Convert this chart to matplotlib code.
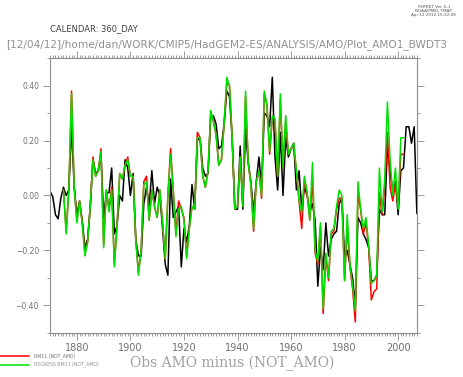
import matplotlib
matplotlib.use("Agg")
import matplotlib.pyplot as plt
from matplotlib.lines import Line2D
from matplotlib.ticker import MultipleLocator, FuncFormatter
import numpy as np

# observed AMO minus NOT_AMO, annual 1870-2007
obs_years = list(range(1870, 2008))
obs = [0.015, -0.005, -0.07, -0.085, -0.01, 0.03, 0.00, 0.02, 0.25, 0.03,
       -0.07, -0.02, -0.09, -0.19, -0.16, -0.04, 0.13, 0.08, 0.09, 0.15,
       -0.08, 0.01, 0.01, 0.10, -0.14, -0.11, 0.00, -0.02, 0.13, 0.10,
       0.00, 0.08, -0.16, -0.22, -0.22, -0.03, 0.03, -0.04, 0.09, -0.03,
       0.03, 0.00, -0.12, -0.25, -0.29, 0.06, -0.08, -0.06, -0.04, -0.26,
       -0.12, -0.17, -0.11, 0.04, -0.05, 0.20, 0.21, 0.10, 0.07, 0.08,
       0.29, 0.29, 0.26, 0.17, 0.18, 0.26, 0.38, 0.36, 0.21, -0.05,
       -0.05, 0.18, -0.05, 0.24, 0.12, 0.05, -0.06, 0.05, 0.14, 0.03,
       0.30, 0.29, 0.25, 0.43, 0.14, 0.02, 0.23, 0.00, 0.21, 0.14,
       0.17, 0.19, 0.02, 0.09, -0.05, 0.03, 0.00, -0.06, -0.03, -0.09,
       -0.33, -0.19, -0.27, -0.10, -0.22, -0.16, -0.14, -0.13, -0.03, -0.01,
       -0.23, -0.20, -0.25, -0.30, -0.40, -0.08, -0.10, -0.14, -0.16, -0.19,
       -0.31, -0.31, -0.29, -0.05, -0.07, -0.07, 0.18, 0.09, 0.015, 0.05,
       -0.07, 0.09, 0.10, 0.25, 0.25, 0.19, 0.25, -0.065]

# RM11 (NOT_AMO) and REGRESS RM11 (NOT_AMO), annual 1875-2002
rm_years = list(range(1875, 2003))
regress = [0.02, -0.14, 0.02, 0.37, 0.03,
           -0.10, -0.02, -0.10, -0.22, -0.17, -0.04, 0.13, 0.07, 0.09, 0.16,
           -0.19, 0.02, -0.06, 0.02, -0.26, -0.11, 0.08, 0.06, 0.11, 0.13,
           0.07, 0.07, -0.16, -0.29, -0.20, 0.04, 0.05, -0.09, 0.02, -0.04,
           -0.08, 0.02, -0.10, -0.23, 0.00, 0.15, 0.02, -0.15, -0.05, -0.04,
           -0.09, -0.23, -0.12, -0.04, -0.05, 0.21, 0.21, 0.07, 0.03, 0.09,
           0.31, 0.27, 0.22, 0.11, 0.13, 0.26, 0.43, 0.40, 0.21, -0.05,
           -0.04, 0.14, -0.04, 0.38, 0.12, 0.04, -0.12, 0.05, 0.09, 0.00,
           0.38, 0.33, 0.16, 0.29, 0.28, 0.07, 0.37, 0.10, 0.29, 0.15,
           0.17, 0.19, 0.09, -0.02, -0.06, 0.07, 0.01, -0.09, 0.12, -0.20,
           -0.24, -0.10, -0.41, -0.21, -0.30, -0.13, -0.12, -0.04, 0.02, 0.00,
           -0.31, -0.07, -0.25, -0.33, -0.42, 0.05, -0.05, -0.12, -0.08, -0.18,
           -0.32, -0.31, -0.29, 0.10, -0.06, 0.06, 0.34, 0.13, 0.00, 0.10,
           -0.05, 0.21, 0.21]
rm11 = [0.02, -0.13, 0.02, 0.38, 0.03,
        -0.09, -0.02, -0.10, -0.21, -0.17, -0.04, 0.14, 0.07, 0.09, 0.17,
        -0.18, 0.02, -0.05, 0.03, -0.25, -0.11, 0.08, 0.06, 0.11, 0.14,
        0.07, 0.07, -0.16, -0.28, -0.20, 0.05, 0.07, -0.09, 0.02, -0.04,
        -0.08, 0.02, -0.10, -0.23, 0.00, 0.17, 0.02, -0.14, -0.02, -0.05,
        -0.08, -0.22, -0.12, -0.04, -0.05, 0.23, 0.21, 0.07, 0.03, 0.09,
        0.30, 0.27, 0.22, 0.11, 0.13, 0.26, 0.41, 0.40, 0.21, -0.05,
        -0.04, 0.14, -0.04, 0.36, 0.12, 0.04, -0.13, 0.05, 0.09, -0.01,
        0.37, 0.33, 0.15, 0.28, 0.27, 0.07, 0.35, 0.10, 0.27, 0.15,
        0.17, 0.18, 0.09, -0.02, -0.12, 0.06, 0.01, -0.09, 0.06, -0.21,
        -0.25, -0.11, -0.43, -0.22, -0.31, -0.14, -0.13, -0.05, -0.01, -0.01,
        -0.31, -0.11, -0.26, -0.34, -0.46, 0.00, -0.05, -0.14, -0.10, -0.19,
        -0.38, -0.35, -0.34, 0.01, -0.07, 0.03, 0.23, 0.03, -0.02, 0.045,
        -0.04, 0.15, 0.15]

fig = plt.figure(figsize=(4.64, 3.77), dpi=100)
ax = fig.add_axes([0.108, 0.117, 0.791, 0.729])

ax.plot(obs_years, obs, color='black', lw=1.1)
ax.plot(rm_years, rm11, color='#ff0000', lw=1.1)
ax.plot(rm_years, regress, color='#00e000', lw=1.1)

ax.set_xlim(1870, 2007.1)
ax.set_ylim(-0.5, 0.5)

ax.xaxis.set_major_locator(MultipleLocator(20))
ax.xaxis.set_minor_locator(MultipleLocator(1))
ax.yaxis.set_major_locator(MultipleLocator(0.2))
ax.yaxis.set_minor_locator(MultipleLocator(0.1))
ax.yaxis.set_major_formatter(FuncFormatter(lambda v, p: ('%.2f' % v).replace('-', '\u2212')))

for s in ax.spines.values():
    s.set_color('#8c8c8c')
    s.set_linewidth(0.8)
ax.tick_params(which='both', direction='out', top=True, right=True, color='#8c8c8c', width=0.6)
ax.tick_params(which='major', length=5)
ax.tick_params(which='minor', length=2.5)
ax.tick_params(axis='y', which='major', labelsize=5.5, labelcolor='#707070', pad=3)
ax.tick_params(axis='x', which='major', labelsize=7, labelcolor='#707070', pad=2)

fig.text(0.5, 0.035, 'Obs AMO minus (NOT_AMO)', ha='center', va='center',
         family='DejaVu Serif', fontsize=10, color='#a0a0a0')
fig.text(0.108, 0.923, 'CALENDAR: 360_DAY', ha='left', va='center', fontsize=6, color='#404040')
fig.text(0.013, 0.882, '[12/04/12]/home/dan/WORK/CMIP5/HadGEM2-ES/ANALYSIS/AMO/Plot_AMO1_BWDT3',
         ha='left', va='center', fontsize=7.6, color='#909090')
fig.text(0.935, 0.988, 'FERRET Ver. 6.1\nNOAA/PMEL TMAP\nApr 12 2012 15:32:49',
         ha='center', va='top', fontsize=3, color='#505050', linespacing=1.1)

# legend drawn below the plot
fig.add_artist(Line2D([0.0, 0.062], [0.056, 0.056], color='#ff0000', lw=1.1))
fig.add_artist(Line2D([0.0, 0.062], [0.033, 0.033], color='#00e000', lw=1.1))
fig.text(0.073, 0.056, 'RM11 (NOT_AMO)', fontsize=3.3, color='#707070', va='center')
fig.text(0.073, 0.033, 'REGRESS RM11 (NOT_AMO)', fontsize=3.3, color='#909090', va='center')

fig.savefig('out.png', dpi=100)
